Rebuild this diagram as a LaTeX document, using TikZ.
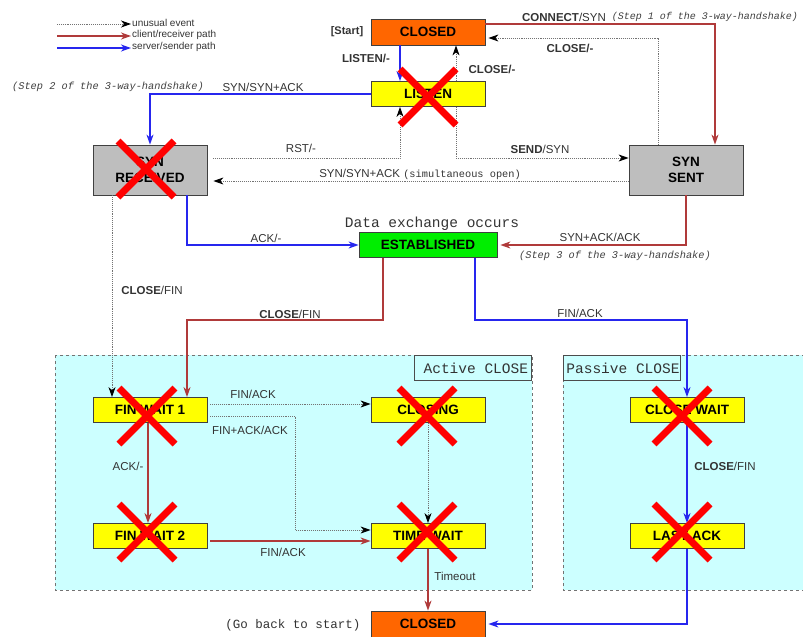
\documentclass[tikz,border=0pt]{standalone}
\usepackage{fontspec}
\setmainfont{Liberation Sans}
\setmonofont{Liberation Mono}
\usepackage{tikz}
\usetikzlibrary{arrows.meta}

\definecolor{closedorange}{HTML}{FF6600}
\definecolor{waityellow}{HTML}{FFFF00}
\definecolor{syngray}{HTML}{BEBEBE}
\definecolor{estgreen}{HTML}{00EE00}
\definecolor{panelcyan}{HTML}{CCFFFF}
\definecolor{clientred}{HTML}{B03A3A}
\definecolor{serverblue}{HTML}{2626EE}
\definecolor{crossred}{HTML}{FF0000}

\tikzset{
  state/.style={draw=black!75, line width=0.8pt, minimum width=114pt, minimum height=25pt,
    inner sep=0pt, font=\fontsize{13.5}{16}\selectfont\bfseries},
  unusual/.style={black!55, line width=0.9pt, densely dotted, -{Stealth[black,length=10pt,width=7pt,inset=3pt]}},
  client/.style={clientred, line width=1.3pt, -{Stealth[length=10pt,width=7pt,inset=3pt]}},
  server/.style={serverblue, line width=1.3pt, -{Stealth[length=10pt,width=7pt,inset=3pt]}},
  edgelabel/.style={text=black!80, font=\fontsize{11.5}{13}\selectfont, inner sep=1pt},
  comment/.style={text=black!75, font=\fontsize{10.3}{12}\selectfont\ttfamily\itshape, inner sep=1pt},
  panel/.style={fill=panelcyan, draw=black!55, dashed, line width=0.8pt},
  panellabel/.style={draw=black!70, line width=0.8pt, minimum width=117pt, minimum height=25pt,
    font=\fontsize{14.5}{16}\selectfont\ttfamily, text=black!80, inner sep=0pt},
  cross/.style={crossred, line width=7pt}
}

\begin{document}
\begin{tikzpicture}[x=1pt,y=-1pt]
    \useasboundingbox (0,0) rectangle (803,637);

    % close panels
    \draw[panel] (55,355) rectangle (532,590);
    \draw[panel] (563,355) rectangle (812,590);
    \node[panellabel, anchor=north east] (activelbl) at (532,355) {};
    \node[panellabel, anchor=north west] (passivelbl) at (563,355) {};
    \node[panellabel, draw=none, minimum width=0pt, anchor=west] at ([xshift=9pt]activelbl.west) {Active CLOSE};
    \node[panellabel, draw=none, minimum width=0pt, anchor=west] at ([xshift=3pt]passivelbl.west) {Passive CLOSE};

    % legend
    \node[edgelabel, anchor=west, font=\fontsize{10}{11}\selectfont] (lgunusual) at (131,23) {unusual event};
    \node[edgelabel, anchor=west, font=\fontsize{10}{11}\selectfont] (lgclient) at (131,35) {client/receiver path};
    \node[edgelabel, anchor=west, font=\fontsize{10}{11}\selectfont] (lgserver) at (131,47) {server/sender path};
    \coordinate (lgu) at (57,24);
    \coordinate (lgc) at (57,36);
    \coordinate (lgs) at (57,48);
    \draw[unusual] (lgu) -- (lgu -| lgunusual.west);
    \draw[client] (lgc) -- (lgc -| lgclient.west);
    \draw[server] (lgs) -- (lgs -| lgserver.west);

    % states
    \node[state, fill=closedorange, minimum height=26pt] (closed) at (428,32) {CLOSED};
    \node[state, fill=waityellow] (listen) at (428,94) {LISTEN};
    \node[state, fill=syngray, minimum height=50pt, align=center] (synrcvd) at (150,170) {SYN\\RECEIVED};
    \node[state, fill=syngray, minimum height=50pt, align=center] (synsent) at (686,170) {SYN\\SENT};
    \node[state, fill=estgreen, minimum width=138pt] (established) at (428,245) {ESTABLISHED};
    \node[state, fill=waityellow] (finwait1) at (150,410) {FIN WAIT 1};
    \node[state, fill=waityellow] (closing) at (428,410) {CLOSING};
    \node[state, fill=waityellow] (finwait2) at (150,536) {FIN WAIT 2};
    \node[state, fill=waityellow] (timewait) at (428,536) {TIME WAIT};
    \node[state, fill=waityellow] (closewait) at (687,410) {CLOSE WAIT};
    \node[state, fill=waityellow] (lastack) at (687,536) {LAST ACK};
    \node[state, fill=closedorange, minimum height=26pt] (closedend) at (428,624) {CLOSED};

    % opening
    \draw[client] ([yshift=8pt]closed.east) -| ([xshift=29pt]synsent.north);
    \draw[unusual, shorten >=3pt] ([xshift=-28pt]synsent.north) |- ([yshift=-6pt]closed.east);
    \draw[server] ([xshift=-28pt]closed.south) -- ([xshift=-28pt]listen.north);
    \draw[unusual] ([xshift=28pt]listen.north) -- ([xshift=28pt]closed.south);
    \draw[server] (listen.west) -| (synrcvd.north);
    \draw[unusual, shorten <=6pt] ([yshift=12pt]synrcvd.east) -| ([xshift=-28pt]listen.south);
    \draw[unusual] ([xshift=28pt]listen.south) |- ([yshift=12pt]synsent.west);
    \draw[unusual, shorten >=6pt] ([yshift=-11pt]synsent.west) -- ([yshift=-11pt]synrcvd.east);
    \draw[server] ([xshift=37pt]synrcvd.south) |- (established.west);
    \draw[client, shorten >=3pt] (synsent.south) |- (established.east);

    % closing
    \draw[unusual] ([xshift=-38pt]synrcvd.south) -- ([xshift=-38pt]finwait1.north);
    \draw[client] ([xshift=-45pt]established.south) -- ++(0,62) -| ([xshift=37pt]finwait1.north);
    \draw[server] ([xshift=47pt]established.south) -- ++(0,62) -| (closewait.north);
    \draw[unusual, shorten <=3pt] ([yshift=6pt]finwait1.east) -- ([yshift=6pt]closing.west);
    \draw[unusual, shorten <=3pt] ([yshift=-6pt]finwait1.east) -- ++(88,0) |- ([yshift=6pt]timewait.west);
    \draw[client] ([xshift=-2pt]finwait1.south) -- ([xshift=-2pt]finwait2.north);
    \draw[client, shorten <=3pt] ([yshift=-5pt]finwait2.east) -- ([yshift=-5pt]timewait.west);
    \draw[unusual] (closing.south) -- (timewait.north);
    \draw[client] (timewait.south) -- (closedend.north);
    \draw[server] (closewait.south) -- (lastack.north);
    \draw[server, shorten >=3pt] (lastack.south) |- (closedend.east);

    % labels
    \node[edgelabel, font=\fontsize{11}{12}\selectfont\bfseries] at (347,32) {[Start]};
    \node[edgelabel] at (564,17) {\textbf{CONNECT}/SYN};
    \node[comment, font=\fontsize{10}{12}\selectfont\ttfamily\itshape] at (705,17) {(Step 1 of the 3-way-handshake)};
    \node[edgelabel] at (570,48) {\textbf{CLOSE/-}};
    \node[edgelabel] at (366,58) {\textbf{LISTEN/-}};
    \node[edgelabel] at (492,69) {\textbf{CLOSE/-}};
    \node[edgelabel] at (263,87) {SYN/SYN+ACK};
    \node[comment] at (108,87) {(Step 2 of the 3-way-handshake)};
    \node[edgelabel] at (301,148) {RST/-};
    \node[edgelabel] at (540,149) {\textbf{SEND}/SYN};
    \node[edgelabel] at (420,174) {SYN/SYN+ACK {\fontsize{10.3}{12}\selectfont\ttfamily (simultaneous open)}};
    \node[edgelabel, font=\fontsize{14.5}{16}\selectfont\ttfamily] at (432,224) {Data exchange occurs};
    \node[edgelabel] at (266,238) {ACK/-};
    \node[edgelabel] at (600,237) {SYN+ACK/ACK};
    \node[comment] at (615,256) {(Step 3 of the 3-way-handshake)};
    \node[edgelabel] at (152,290) {\textbf{CLOSE}/FIN};
    \node[edgelabel] at (290,314) {\textbf{CLOSE}/FIN};
    \node[edgelabel] at (580,313) {FIN/ACK};
    \node[edgelabel] at (253,394) {FIN/ACK};
    \node[edgelabel] at (250,430) {FIN+ACK/ACK};
    \node[edgelabel] at (128,466) {ACK/-};
    \node[edgelabel] at (283,552) {FIN/ACK};
    \node[edgelabel] at (455,576) {Timeout};
    \node[edgelabel] at (725,466) {\textbf{CLOSE}/FIN};
    \node[edgelabel, font=\fontsize{12.5}{14}\selectfont\ttfamily] at (293,625) {(Go back to start)};

    % crossed out states
    \foreach \cx/\cy in {428/97, 146/169, 147/416, 427/416, 147/532, 427/532, 682/416, 682/532} {
        \draw[cross] (\cx-28,\cy-28) -- (\cx+28,\cy+28);
        \draw[cross] (\cx-28,\cy+28) -- (\cx+28,\cy-28);
    }
\end{tikzpicture}
\end{document}
